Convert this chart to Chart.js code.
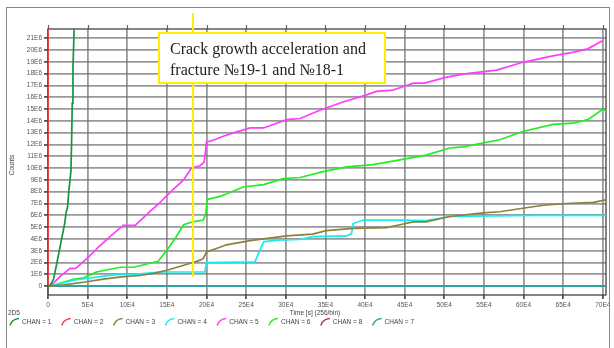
<!DOCTYPE html>
<html>
<head>
<meta charset="utf-8">
<script src="https://cdn.jsdelivr.net/npm/chart.js@4.4.1/dist/chart.umd.min.js"></script>
<style>
  html, body { margin: 0; padding: 0; background: #fff; }
  #wrap { position: relative; width: 614px; height: 348px; }
</style>
</head>
<body>
<div id="wrap"><canvas id="chart" width="614" height="348"></canvas></div>
<script>
// time in units of 1E4 s, counts in units of 1E6
const timeTicks = [0, 5, 10, 15, 20, 25, 30, 35, 40, 45, 50, 55, 60, 65, 70];
const countTicks = [0, 1, 2, 3, 4, 5, 6, 7, 8, 9, 10, 11, 12, 13, 14, 15, 16, 17, 18, 19, 20, 21];

const chanNames = ["CHAN = 1", "CHAN = 2", "CHAN = 3", "CHAN = 4", "CHAN = 5", "CHAN = 6", "CHAN = 8", "CHAN = 7"];
const chanColors = ["#14963c", "#ff3b3b", "#8c8040", "#14eef0", "#ff3cff", "#22ee22", "#b03a3a", "#2aa0a0"];

const chan1Time = [0, 0.3, 0.7, 1.1, 1.6, 2.1, 2.3, 2.45, 2.65, 2.9, 3.0, 3.06, 3.15, 3.3];
const chan1Count = [0, 0.1, 0.6, 1.9, 3.6, 5.3, 6.3, 6.6, 8.2, 9.8, 13, 15.5, 18.5, 21.8];

const chan2Time = [0, 0];
const chan2Count = [0, 22];

const chan3Time = [0, 0.3, 2.0, 4.9, 7.0, 9.5, 11.6, 13.5, 15.0, 18.3, 19.2, 19.6, 20.0, 21.7, 22.5, 25.5, 30.1, 33.4, 35.1, 38.5, 42.7, 44.4, 46.1, 47.7, 50.7, 54.9, 57.0, 59.9, 62.5, 65.4, 68.8, 70.4];
const chan3Count = [0, 0, 0.1, 0.37, 0.6, 0.8, 0.9, 1.1, 1.35, 2.0, 2.2, 2.35, 2.9, 3.3, 3.5, 3.85, 4.25, 4.4, 4.7, 4.9, 4.95, 5.2, 5.45, 5.45, 5.9, 6.2, 6.3, 6.6, 6.85, 7.0, 7.1, 7.3];

const chan4Time = [0, 0.3, 3.2, 4.9, 7.0, 9.1, 10.8, 14.1, 19.8, 20.0, 26.1, 27.2, 28.8, 31.8, 33.4, 37.7, 38.3, 38.5, 39.8, 44.4, 47.7, 50.7, 61.2, 70.4];
const chan4Count = [0, 0, 0.5, 0.65, 0.85, 1.0, 1.0, 1.2, 1.2, 2.0, 2.05, 3.75, 3.9, 3.95, 4.2, 4.25, 4.45, 5.3, 5.6, 5.6, 5.55, 5.9, 6.0, 6.0];

const chan5Time = [0, 0.3, 1.5, 2.8, 3.5, 5.1, 6.5, 8.0, 9.5, 11.0, 12.5, 14.0, 15.5, 17.1, 18.1, 19.2, 19.7, 20.0, 21.0, 22.1, 23.5, 25.5, 27.2, 30.1, 31.8, 34.3, 37.2, 40.2, 41.4, 43.5, 44.4, 46.1, 47.5, 50.3, 52.8, 56.6, 59.9, 63.7, 66.2, 68.1, 70.0];
const chan5Count = [0, 0, 0.8, 1.5, 1.5, 2.45, 3.4, 4.3, 5.15, 5.15, 6.1, 7.0, 8.0, 9.0, 10.0, 10.2, 10.5, 12.2, 12.4, 12.7, 13.0, 13.4, 13.4, 14.1, 14.2, 14.9, 15.6, 16.2, 16.5, 16.6, 16.8, 17.2, 17.2, 17.7, 18.0, 18.3, 18.96, 19.5, 19.8, 20.1, 20.8];

const chan6Time = [0, 0.3, 1.5, 3.2, 4.5, 6.1, 9.1, 10.8, 13.9, 15.0, 16.2, 17.1, 18.3, 19.6, 19.9, 20.1, 21.7, 22.5, 24.6, 27.2, 29.7, 31.8, 34.7, 37.7, 41.0, 44.4, 47.7, 50.7, 52.4, 57.0, 59.9, 63.7, 66.2, 68.1, 69.8, 70.4];
const chan6Count = [0, 0, 0.25, 0.57, 0.7, 1.2, 1.6, 1.6, 2.1, 3.05, 4.2, 5.2, 5.45, 5.6, 6.15, 7.35, 7.6, 7.8, 8.4, 8.6, 9.1, 9.2, 9.7, 10.1, 10.3, 10.7, 11.1, 11.7, 11.8, 12.4, 13.1, 13.7, 13.8, 14.1, 14.9, 14.9];

const chan8Time = [];
const chan8Count = [];

const chan7Time = [0, 70.4];
const chan7Count = [0, 0];

// vertical marker at the crack event
const markTime = 18.3;
const markLow = 0.8;
const noteLines = ["Crack growth acceleration and", "fracture \u211619-1 and \u211618-1"];

const series = [
  [chan1Time, chan1Count],
  [chan2Time, chan2Count],
  [chan3Time, chan3Count],
  [chan4Time, chan4Count],
  [chan5Time, chan5Count],
  [chan6Time, chan6Count],
  [chan8Time, chan8Count],
  [chan7Time, chan7Count],
];

function toPoints(t, c) {
  return t.map((v, i) => ({ x: v, y: c[i] }));
}

const datasets = series.map((s, i) => ({
  label: chanNames[i],
  data: toPoints(s[0], s[1]),
  borderColor: chanColors[i],
  borderWidth: 1.7,
  pointRadius: 0,
  tension: 0,
  fill: false,
}));

const sans = "'Liberation Sans', Arial, sans-serif";

const extras = {
  id: "extras",
  beforeDraw(chart) {
    const ctx = chart.ctx;
    ctx.save();
    ctx.fillStyle = "#fff";
    ctx.fillRect(0, 0, chart.width, chart.height);
    ctx.restore();
  },
  beforeDatasetsDraw(chart) {
    const ctx = chart.ctx;
    const a = chart.chartArea;
    const xs = chart.scales.x;
    ctx.save();
    // small ticks above the plot frame
    ctx.strokeStyle = "#666";
    ctx.lineWidth = 1.2;
    timeTicks.forEach(t => {
      const px = Math.round(xs.getPixelForValue(t)) + 0.5;
      ctx.beginPath();
      ctx.moveTo(px, a.top - 4);
      ctx.lineTo(px, a.top);
      ctx.stroke();
    });
    // plot frame
    ctx.strokeStyle = "#444";
    ctx.lineWidth = 1.3;
    ctx.strokeRect(a.left, a.top, a.right - a.left, a.bottom - a.top);
    ctx.restore();
  },
  afterDraw(chart) {
    const ctx = chart.ctx;
    const xs = chart.scales.x;
    const ys = chart.scales.y;
    ctx.save();

    // outer frame
    ctx.strokeStyle = "#888";
    ctx.lineWidth = 1;
    ctx.strokeRect(6.5, 7.5, 603, 345);

    // marker line
    const mx = xs.getPixelForValue(markTime);
    ctx.strokeStyle = "#ffee00";
    ctx.lineWidth = 2;
    ctx.beginPath();
    ctx.moveTo(mx, 13);
    ctx.lineTo(mx, ys.getPixelForValue(markLow));
    ctx.stroke();

    // note box
    ctx.fillStyle = "#fff";
    ctx.fillRect(159, 33, 226, 50);
    ctx.strokeStyle = "#ffee00";
    ctx.lineWidth = 2;
    ctx.strokeRect(159, 33, 226, 50);
    ctx.fillStyle = "#222";
    ctx.font = "16px 'Liberation Serif', 'Times New Roman', serif";
    ctx.textAlign = "left";
    ctx.textBaseline = "alphabetic";
    ctx.fillText(noteLines[0], 170, 54);
    ctx.fillText(noteLines[1], 170, 75);

    // axis titles
    ctx.fillStyle = "#444";
    ctx.font = "6.5px " + sans;
    ctx.textAlign = "center";
    ctx.textBaseline = "middle";
    ctx.fillText("Time [s] (256/bin)", 315, 313);
    ctx.save();
    ctx.translate(12, 165);
    ctx.rotate(-Math.PI / 2);
    ctx.fillText("Counts", 0, 0);
    ctx.restore();

    // legend
    ctx.textAlign = "left";
    ctx.fillText("2D5", 8, 313);
    chanNames.forEach((name, i) => {
      const x = 10 + i * 51.8;
      const y = 322;
      ctx.strokeStyle = chanColors[i];
      ctx.lineWidth = 1.5;
      ctx.beginPath();
      ctx.moveTo(x, y + 3.5);
      ctx.quadraticCurveTo(x + 2, y - 3, x + 9, y - 3.5);
      ctx.stroke();
      ctx.fillStyle = "#444";
      ctx.fillText(name, x + 12, y);
    });

    ctx.restore();
  },
};

function zeroPadding(scale) {
  scale.paddingLeft = 0;
  scale.paddingRight = 0;
  scale.paddingTop = 0;
  scale.paddingBottom = 0;
}

const gridStyle = {
  color: "rgba(110,110,110,0.7)",
  lineWidth: 1.8,
  drawTicks: true,
  tickLength: 4,
  tickColor: "#555",
};

new Chart(document.getElementById("chart").getContext("2d"), {
  type: "line",
  data: { datasets: datasets },
  options: {
    responsive: false,
    animation: false,
    devicePixelRatio: 1,
    layout: { padding: { top: 29, right: 8, left: 0, bottom: 0 } },
    plugins: {
      legend: { display: false },
      tooltip: { enabled: false },
    },
    scales: {
      x: {
        type: "linear",
        min: 0,
        max: 70.4,
        grid: gridStyle,
        border: { display: false },
        afterBuildTicks: scale => { scale.ticks = timeTicks.map(v => ({ value: v })); },
        afterFit: scale => { scale.height = 53; zeroPadding(scale); },
        ticks: {
          autoSkip: false,
          maxRotation: 0,
          padding: 2,
          color: "#555",
          font: { family: sans, size: 6.5 },
          callback: v => (v === 0 ? "0" : v + "E4"),
        },
      },
      y: {
        type: "linear",
        min: -0.75,
        max: 21.78,
        grid: gridStyle,
        border: { display: false },
        afterBuildTicks: scale => { scale.ticks = countTicks.map(v => ({ value: v })); },
        afterFit: scale => { scale.width = 48; zeroPadding(scale); },
        ticks: {
          autoSkip: false,
          padding: 2,
          color: "#555",
          font: { family: sans, size: 6.5 },
          callback: v => (v === 0 ? "0" : v + "E6"),
        },
      },
    },
  },
  plugins: [extras],
});
</script>
</body>
</html>
